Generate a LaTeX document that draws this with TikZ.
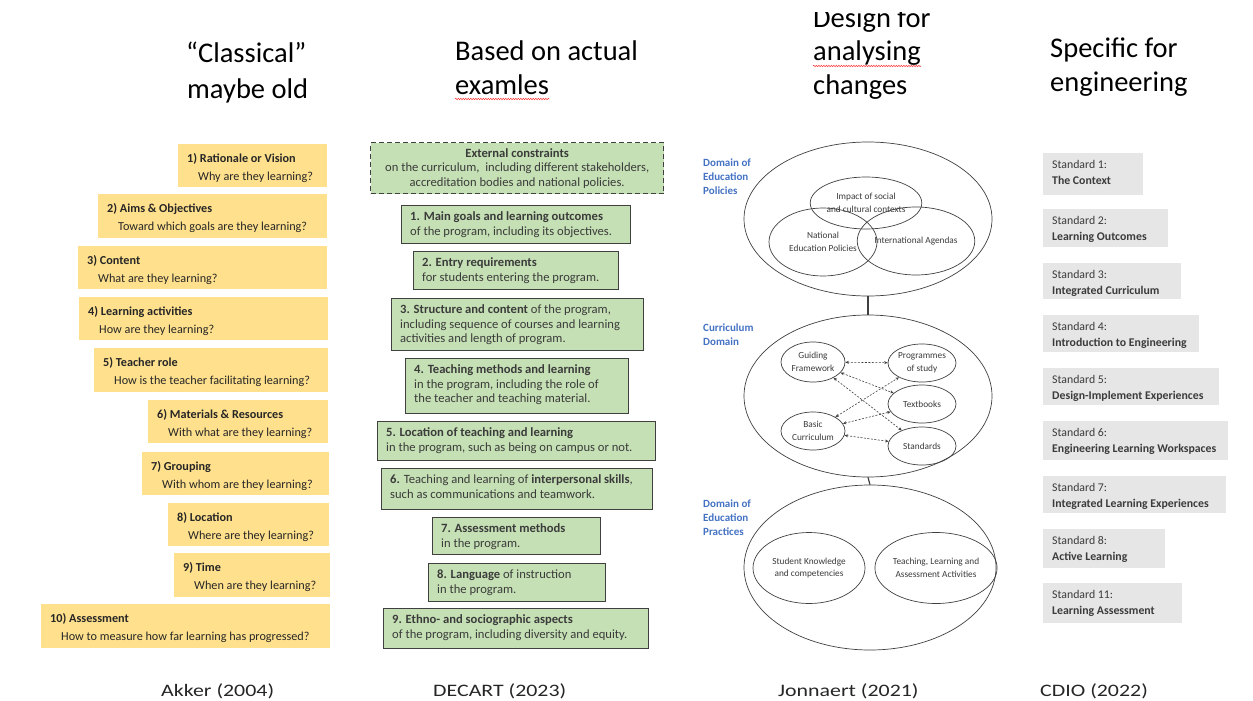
\documentclass[tikz,border=0pt]{standalone}
\usepackage{fontspec}
\setmainfont{Carlito}
\newfontfamily\footfont[FakeStretch=1.25]{Carlito}
\usetikzlibrary{shapes.geometric,arrows.meta,decorations.pathmorphing}
\definecolor{ylw}{HTML}{FFE08C}
\definecolor{grn}{HTML}{C5E0B4}
\definecolor{gry}{HTML}{E6E6E6}
\definecolor{bdr}{HTML}{404040}
\definecolor{blu}{HTML}{4472C4}
\definecolor{txt}{HTML}{262626}
\definecolor{txtb}{HTML}{3B3B3B}
% multi-line blocks whose baseline is the first line
\newcommand\TL[1]{\vtop{\halign{##\hfil\cr#1\crcr}}}
\newcommand\TC[1]{\vtop{\halign{\hfil##\hfil\cr#1\crcr}}}
\newcommand\YBox[7]{%
  \node[ybox,minimum width=#4pt,minimum height=#5pt] (#1) at (#2,#3) {};
  \node[ytitle] (#1t) at ([shift={(9,18)}]#1.north west) {#6};
  \node[ysub] (#1s) at ([shift={(20,36)}]#1.north west) {#7};}
\newcommand\GBox[6]{%
  \node[gbox,minimum width=#4pt,minimum height=#5pt] (#1) at (#2,#3) {};
  \node[gtxt] (#1t) at ([shift={(9,15.5)}]#1.north west) {\TL{#6}};}
\newcommand\CBox[7]{%
  \node[cbox,minimum width=#4pt,minimum height=#5pt] (#1) at (#2,#3) {};
  \node[ctxt] (#1t) at ([shift={(9,15)}]#1.north west) {\TL{#6\cr\textbf{#7}}};}
\begin{document}
\begin{tikzpicture}[x=1pt,y=-1pt,
  hdr/.style={anchor=base west,inner sep=0,font=\fontsize{28.5}{34}\selectfont,text=black},
  foot/.style={anchor=base west,inner sep=0,font=\footfont\fontsize{17.5}{20}\selectfont,text=txt},
  ybox/.style={rectangle,fill=ylw,draw=none,anchor=north west,inner sep=0},
  ytitle/.style={anchor=base west,inner sep=0,font=\bfseries\fontsize{12.2}{15}\selectfont,text=txt},
  ysub/.style={anchor=base west,inner sep=0,font=\fontsize{12.2}{15}\selectfont,text=txt},
  gbox/.style={rectangle,fill=grn,draw=bdr,line width=1.4pt,anchor=north west,inner sep=0},
  ebox/.style={gbox,dash pattern=on 5pt off 3pt},
  gtxt/.style={anchor=base west,inner sep=0,font=\fontsize{12.6}{14.5}\selectfont,text=txtb},
  cbox/.style={rectangle,fill=gry,draw=none,anchor=north west,inner sep=0},
  ctxt/.style={anchor=base west,inner sep=0,font=\fontsize{11.8}{16}\selectfont,text=txtb},
  outer/.style={ellipse,draw=bdr,line width=0.7pt,inner sep=0},
  inner/.style={ellipse,draw=bdr,line width=0.7pt,inner sep=0,align=center,font=\fontsize{9.3}{12.5}\selectfont,text=txtb},
  blab/.style={anchor=base west,inner sep=0,font=\bfseries\fontsize{11}{14}\selectfont,text=blu},
  darr/.style={draw=bdr,line width=0.6pt,dash pattern=on 2pt off 1.5pt,{Stealth[length=3.5pt,width=3pt]}-{Stealth[length=3.5pt,width=3pt]}},
  link/.style={draw=bdr,line width=1.2pt},
  wavy/.style={draw=red!80!white,line width=0.5pt,decorate,decoration={snake,amplitude=0.7pt,segment length=2.5pt}}
]
\useasboundingbox (0,0) rectangle (1253,701);
\fill[white] (0,0) rectangle (1253,701);

% headers
\node[hdr] (h1a) at (186,63) {“Classical”};
\node[hdr] (h1b) at (187,98) {maybe old};
\node[hdr] (h2a) at (455,61) {Based on actual};
\node[hdr] (h2b) at (455,95) {examles};
\begin{scope}
  \clip (700,13) rectangle (1000,45);
  \node[hdr] (h3a) at (813,28) {Design for};
\end{scope}
\node[hdr] (h3b) at (813,60) {analysing};
\node[hdr] (h3c) at (813,95) {changes};
\node[hdr] (h4a) at (1050,58) {Specific for};
\node[hdr] (h4b) at (1050,92) {engineering};
\draw[wavy] ([yshift=-4pt]h2b.base west) -- ([yshift=-4pt]h2b.base east);
\draw[wavy] ([yshift=-6pt]h3b.base west) -- ([yshift=-6pt]h3b.base east);

% Akker
\YBox{a1}{178}{144}{149}{43}{1) Rationale or Vision}{Why are they learning?}
\YBox{a2}{98}{194}{229}{44}{2) Aims \& Objectives}{Toward which goals are they learning?}
\YBox{a3}{78}{246}{249}{43}{3) Content}{What are they learning?}
\YBox{a4}{79}{297}{249}{43}{4) Learning activities}{How are they learning?}
\YBox{a5}{94}{348}{234}{44}{5) Teacher role}{How is the teacher facilitating learning?}
\YBox{a6}{148}{400}{180}{43}{6) Materials \& Resources}{With what are they learning?}
\YBox{a7}{142}{452}{187}{43}{7) Grouping}{With whom are they learning?}
\YBox{a8}{168}{503}{161}{43}{8) Location}{Where are they learning?}
\YBox{a9}{174}{553}{156}{44}{9) Time}{When are they learning?}
\YBox{a10}{41}{604}{289}{44}{10) Assessment}{How to measure how far learning has progressed?}

% DECART
\node[ebox,minimum width=293pt,minimum height=51pt] (d0) at (370,142) {};
\node[gtxt,anchor=base] (d0t) at ([yshift=-15pt]d0.north) {\TC{\textbf{External constraints}\cr on the curriculum,\ \ including different stakeholders,\cr accreditation bodies and national policies.}};
\GBox{d1}{401}{205}{229}{38}{\textbf{1. Main goals and learning outcomes}\cr of the program, including its objectives.}
\GBox{d2}{413}{251}{205}{38}{\textbf{2. Entry requirements}\cr for students entering the program.}
\GBox{d3}{391}{298}{252}{52}{\textbf{3. Structure and content} of the program,\cr including sequence of courses and learning\cr activities and length of program.}
\GBox{d4}{405}{358}{223}{55}{\textbf{4. Teaching methods and learning}\cr in the program, including the role of\cr the teacher and teaching material.}
\GBox{d5}{377}{421}{278}{39}{\textbf{5. Location of teaching and learning}\cr in the program, such as being on campus or not.}
\GBox{d6}{381}{468}{271}{41}{\textbf{6.} Teaching and learning of \textbf{interpersonal skills},\cr such as communications and teamwork.}
\GBox{d7}{432}{517}{168}{37}{\textbf{7. Assessment methods}\cr in the program.}
\GBox{d8}{428}{563}{177}{38}{\textbf{8. Language} of instruction\cr in the program.}
\GBox{d9}{383}{608}{265}{40}{\textbf{9. Ethno- and sociographic aspects}\cr of the program, including diversity and equity.}

% Jonnaert
\node[blab] (b1) at (703,166) {\TL{Domain of\cr Education\cr Policies}};
\node[blab] (b2) at (703,331) {\TL{Curriculum\cr Domain}};
\node[blab] (b3) at (703,507) {\TL{Domain of\cr Education\cr Practices}};
\node[outer,minimum width=248pt,minimum height=154pt] (J1) at (868,219) {};
\node[outer,minimum width=248pt,minimum height=162pt] (J2) at (868,396) {};
\node[outer,minimum width=252pt,minimum height=165pt] (J3) at (870,567.5) {};
\draw[link] (J1.south) -- (J2.north);
\draw[link] (J2.south) -- (J3.north);
\node[inner,minimum width=106pt,minimum height=52pt] (p1) at (866,203) {Impact of social\\and cultural contexts};
\node[inner,minimum width=108pt,minimum height=68pt] (p2) at (823,242) {National\\Education Policies};
\node[inner,minimum width=106pt,minimum height=68pt] (p3) at (916,241) {International Agendas};
\node[inner,minimum width=64pt,minimum height=40pt] (cg) at (813,362) {Guiding\\Framework};
\node[inner,minimum width=68pt,minimum height=38pt] (cp) at (922,363) {Programmes\\of study};
\node[inner,minimum width=68pt,minimum height=38pt] (ct) at (922,404) {Textbooks};
\node[inner,minimum width=64pt,minimum height=38pt] (cb) at (813,431) {Basic\\Curriculum};
\node[inner,minimum width=68pt,minimum height=38pt] (cs) at (922,446) {Standards};
\draw[darr] (cg) -- (cp);
\draw[darr] (cg) -- (ct);
\draw[darr] (cg) -- (cs);
\draw[darr] (cb) -- (cp);
\draw[darr] (cb) -- (ct);
\draw[darr] (cb) -- (cs);
\node[inner,minimum width=112pt,minimum height=71pt] (e1) at (809,568) {Student Knowledge\\and competencies};
\node[inner,minimum width=107pt,minimum height=71pt] (e2) at (936,568) {Teaching, Learning and\\Assessment Activities};

% CDIO
\CBox{s1}{1043}{153}{100}{42}{Standard 1:}{The Context}
\CBox{s2}{1043}{209}{125}{38}{Standard 2:}{Learning Outcomes}
\CBox{s3}{1043}{263}{138}{36}{Standard 3:}{Integrated Curriculum}
\CBox{s4}{1043}{315}{156}{37}{Standard 4:}{Introduction to Engineering}
\CBox{s5}{1043}{368}{176}{37}{Standard 5:}{Design-Implement Experiences}
\CBox{s6}{1043}{421}{185}{39}{Standard 6:}{Engineering Learning Workspaces}
\CBox{s7}{1043}{476}{183}{37}{Standard 7:}{Integrated Learning Experiences}
\CBox{s8}{1043}{529}{122}{39}{Standard 8:}{Active Learning}
\CBox{s11}{1043}{583}{139}{40}{Standard 11:}{Learning Assessment}

% footers
\node[foot] (f1) at (161,696) {Akker (2004)};
\node[foot] (f2) at (433,696) {DECART (2023)};
\node[foot] (f3) at (778,696) {Jonnaert (2021)};
\node[foot] (f4) at (1040,696) {CDIO (2022)};
\end{tikzpicture}
\end{document}
